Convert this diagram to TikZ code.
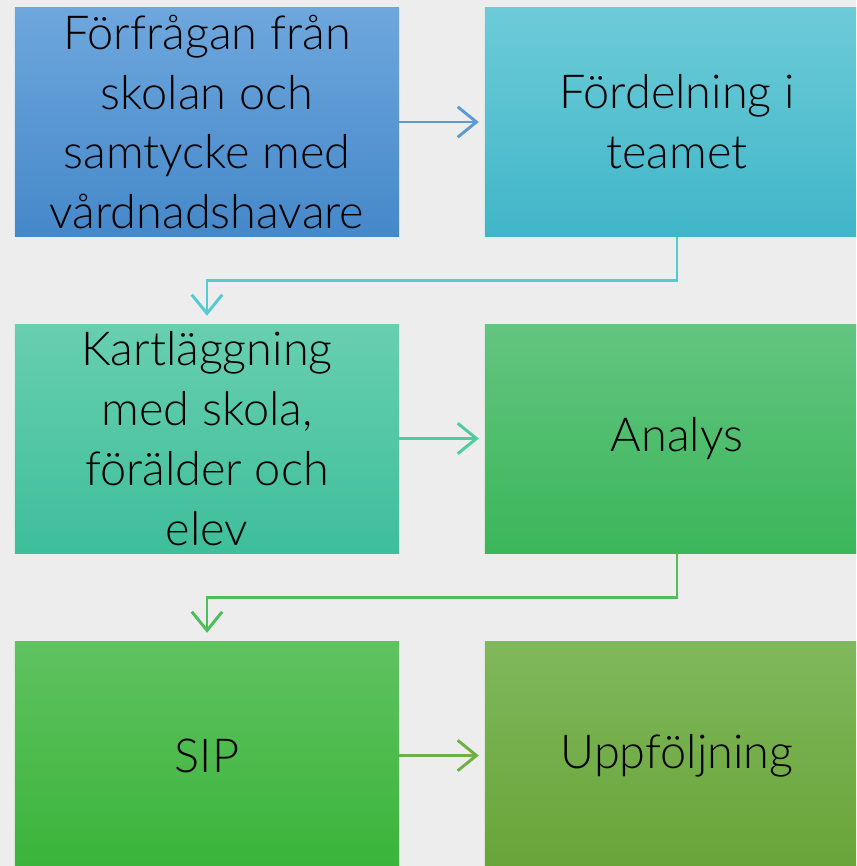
\documentclass[tikz,border=0pt]{standalone}
\usepackage{fontspec}
\setmainfont{Lato Light}
\usetikzlibrary{arrows.meta,positioning}
\tikzset{
	step box/.style={rectangle,minimum width=11.52cm,minimum height=6.87cm,align=center,inner sep=0pt,
		font=\fontsize{40}{51}\selectfont},
	flow/.style={line width=2.5pt,-{Straight Barb[length=16pt,width=26pt,line width=2.5pt]}},
}

\begin{document}
\begin{tikzpicture}[x=0.03cm,y=-0.03cm]
			\useasboundingbox[fill={rgb,255:red,237;green,237;blue,237}] (0,0) rectangle (856,866);
			\clip (0,0) rectangle (856,866);
			\node[step box,top color={rgb,255:red,110;green,167;blue,221},bottom color={rgb,255:red,69;green,136;blue,201}] (forf) at (207,122) {Förfrågan från\\skolan och\\samtycke med\\vårdnadshavare};
			\node[step box,top color={rgb,255:red,109;green,203;blue,216},bottom color={rgb,255:red,64;green,182;blue,200}] (fordel) at (677,122) {Fördelning i\\teamet};
			\node[step box,top color={rgb,255:red,104;green,207;blue,176},bottom color={rgb,255:red,62;green,190;blue,155}] (kart) at (207,438.5) {Kartläggning\\med skola,\\förälder och\\elev};
			\node[step box,top color={rgb,255:red,99;green,197;blue,128},bottom color={rgb,255:red,59;green,182;blue,90}] (analys) at (677,438.5) {Analys};
			\node[step box,top color={rgb,255:red,96;green,194;blue,96},bottom color={rgb,255:red,58;green,180;blue,58}] (sip) at (207,755.5) {SIP};
			\node[step box,top color={rgb,255:red,128;green,184;blue,92},bottom color={rgb,255:red,104;green,164;blue,56}] (uppf) at (677,755.5) {Uppföljning};
			
			\draw[flow,draw={rgb,255:red,91;green,155;blue,213},shorten >=6*0.03cm] (forf) -- (fordel);
			\draw[flow,draw={rgb,255:red,84;green,202;blue,210},shorten >=8*0.03cm] (fordel.south) -- ++(0,44) -| (kart.north);
			\draw[flow,draw={rgb,255:red,78;green,204;blue,160},shorten >=6*0.03cm] (kart) -- (analys);
			\draw[flow,draw={rgb,255:red,76;green,190;blue,90},shorten >=8*0.03cm] (analys.south) -- ++(0,44) -| (sip.north);
			\draw[flow,draw={rgb,255:red,110;green,175;blue,70},shorten >=6*0.03cm] (sip) -- (uppf);
		\end{tikzpicture}
\end{document}
